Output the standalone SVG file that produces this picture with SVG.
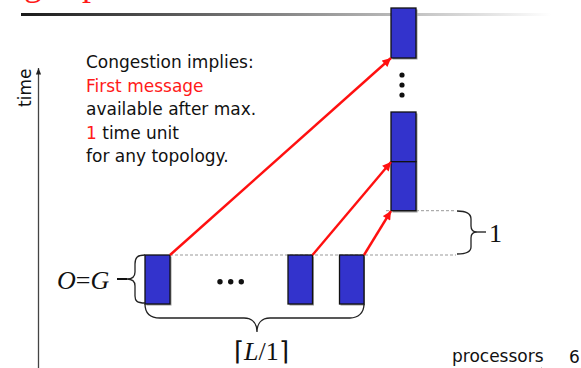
<svg xmlns="http://www.w3.org/2000/svg" width="581" height="368" viewBox="0 0 581 368">
<style>
.txt{font-family:"DejaVu Sans","Liberation Sans",sans-serif;font-size:17px;fill:#111}
.red{fill:#ff1a1a}
.serif{font-family:"Liberation Serif","Times New Roman",serif;fill:#111}
.box{fill:#3333cc;stroke:#111;stroke-width:1.3}
.shadow{fill:#999}
.dash{stroke:#999;stroke-width:1;stroke-dasharray:3 2;fill:none}
.brace{fill:none;stroke:#222;stroke-width:1.3}
.arrow{stroke:#ff1010;stroke-width:2.4;fill:none;marker-end:url(#ah)}
.axis{stroke:#444;stroke-width:1.3;fill:none;marker-end:url(#ax)}
</style>
<defs>
<linearGradient id="rule" x1="0" x2="1" y1="0" y2="0">
<stop offset="0" stop-color="#1a1a1a"/>
<stop offset="0.5" stop-color="#888"/>
<stop offset="1" stop-color="#fff"/>
</linearGradient>
<marker id="ah" viewBox="0 0 10 10" refX="10" refY="5" markerWidth="4" markerHeight="3.6" orient="auto" markerUnits="strokeWidth">
<path d="M0,0 L10,5 L0,10 z" fill="#ff1010"/>
</marker>
<marker id="ax" viewBox="0 0 10 10" refX="10" refY="5" markerWidth="5" markerHeight="5" orient="auto" markerUnits="strokeWidth">
<path d="M0,1 L10,5 L0,9 z" fill="#222"/>
</marker>
</defs>

<g id="title">
<text class="serif" font-size="36" y="-5" style="fill:#ff1a1a"><tspan x="24">g</tspan><tspan x="82">p</tspan></text>
<rect x="21" y="13" width="530" height="3" fill="url(#rule)"/>
</g>

<g id="axes">
<path class="axis" d="M38.5,368 L38.5,68"/>
<path class="axis" d="M38,370 L547,370"/>
<text class="txt" font-size="16" transform="translate(31,107) rotate(-90)">time</text>
<text class="txt" x="452" y="362" font-size="16.6">processors</text>
<text class="txt" x="569" y="363" font-size="10">6</text>
</g>

<g id="note">
<text class="txt" x="86" y="68">Congestion implies:</text>
<text class="txt red" x="86" y="92">First message</text>
<text class="txt" x="86" y="115">available after max.</text>
<text class="txt" x="86" y="139"><tspan class="red">1</tspan> time unit</text>
<text class="txt" x="86" y="162">for any topology.</text>
</g>

<g id="guides">
<path class="dash" d="M170,255 L456,255"/>
<path class="dash" d="M386,210.7 L456,210.7"/>
</g>

<g id="sender1">
<rect class="shadow" x="146.5" y="256.5" width="25" height="49"/>
<rect class="box" x="145" y="255" width="25" height="49"/>
</g>
<g id="ellipsis-senders">
<circle cx="220" cy="281.7" r="2.7" fill="#111"/>
<circle cx="230.7" cy="281.7" r="2.7" fill="#111"/>
<circle cx="241.3" cy="281.7" r="2.7" fill="#111"/>
</g>
<g id="sender2">
<rect class="shadow" x="289.5" y="256.5" width="24.5" height="49"/>
<rect class="box" x="288" y="255" width="24.5" height="49"/>
</g>
<g id="sender3">
<rect class="shadow" x="340.5" y="256.5" width="24.5" height="49"/>
<rect class="box" x="339.5" y="255" width="24.5" height="49"/>
</g>

<g id="receiver-top">
<rect class="shadow" x="392.5" y="9.5" width="25" height="50"/>
<rect class="box" x="391" y="8" width="25" height="50"/>
</g>
<g id="ellipsis-receiver">
<circle cx="402" cy="75" r="2.6" fill="#111"/>
<circle cx="402" cy="85" r="2.6" fill="#111"/>
<circle cx="402" cy="95" r="2.6" fill="#111"/>
</g>
<g id="receiver-mid">
<rect class="shadow" x="392.5" y="113.5" width="25" height="49.5"/>
<rect class="box" x="391" y="112" width="25" height="49.7"/>
</g>
<g id="receiver-low">
<rect class="shadow" x="392.5" y="163" width="25" height="49.5"/>
<rect class="box" x="391" y="161.7" width="25" height="49"/>
</g>

<g id="connectors">
<path class="arrow" d="M170,255 L391,58"/>
<path class="arrow" d="M312.5,255 L391,162"/>
<path class="arrow" d="M364,255 L391,211"/>
</g>

<g id="brace-og">
<path class="brace" d="M145,255 C137,255 135,258 135,264 L135,272 C135,277 132,279 127,279 C132,279 135,281 135,286 L135,296 C135,301 137,303 145,303"/>
<path d="M117,279 L127,279" stroke="#111" stroke-width="2"/>
<text class="serif" x="57" y="289" font-size="26"><tspan font-style="italic">O</tspan>=<tspan font-style="italic">G</tspan></text>
</g>

<g id="brace-L">
<path class="brace" d="M145,304 C145,313 150,318 160,318 L244,318 C252,318 257,323 257,332 C257,323 262,318 270,318 L350,318 C358,318 364,313 364,304"/>
<text class="serif" x="234" y="360" font-size="26">⌈<tspan font-style="italic">L</tspan>/1⌉</text>
</g>

<g id="brace-1">
<path class="brace" stroke="#444" d="M457,211 C466,211 471,213 471,219 L471,226 C471,230 473,232 477,232 C473,232 471,234 471,238 L471,247 C471,252 466,254 457,254"/>
<path d="M477,232 L486,232" stroke="#444" stroke-width="1.6"/>
<text class="serif" x="489" y="242" font-size="26">1</text>
</g>
</svg>
